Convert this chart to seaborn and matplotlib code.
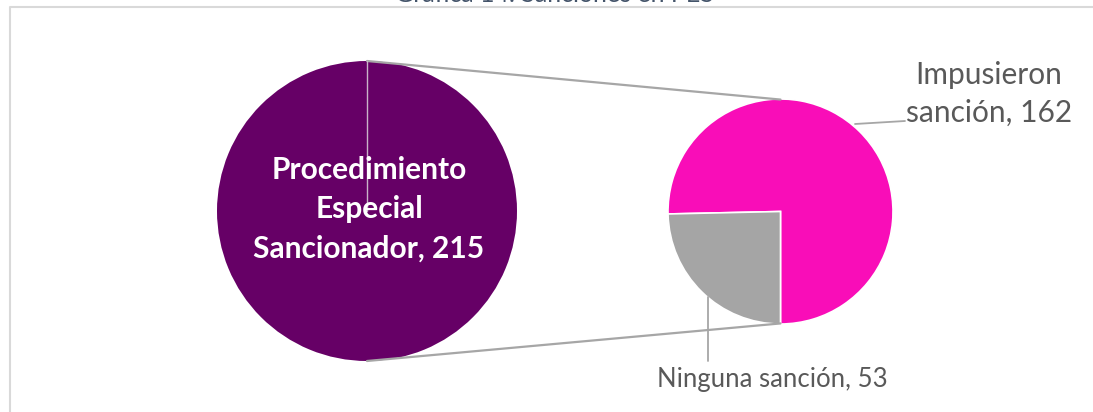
import matplotlib
matplotlib.use("Agg")
import matplotlib.pyplot as plt
import seaborn as sns

# ---- data ----
main_label = ["Procedimiento\nEspecial\nSancionador"]
main_values = [215]
sub_labels = ["Impusieron\nsanción", "Ninguna sanción"]
sub_values = [162, 53]
title = "Gráfica 14. Sanciones en PES"

sns.set_theme(style="white")
plt.rcParams["font.family"] = ["Lato", "DejaVu Sans"]

W, H = 1093, 412
fig = plt.figure(figsize=(W / 100, H / 100), dpi=100)
ax = fig.add_axes([0, 0, 1, 1])

PURPLE = "#660066"
PINK = "#F90DB8"
GRAY = "#A5A5A5"
LINE = "#A6A6A6"
TXT = "#595959"

# geometry (pixel coords, y up)
cx1, cy1, r1 = 367, H - 211, 150
cx2, cy2, r2 = 780.5, H - 211.5, 112.5

# primary pie
ax.pie(main_values, center=(cx1, cy1), radius=r1, colors=[PURPLE],
       startangle=90, wedgeprops=dict(linewidth=0))
ax.plot([cx1, cx1], [cy1, cy1 + r1], color="#C9B3C9", lw=1, zorder=3)
ax.text(cx1 + 2, cy1 + 2, f"{main_label[0]}, {main_values[0]}", color="white",
        fontsize=21.5, fontweight="bold", ha="center", va="center",
        linespacing=1.5, zorder=4)

# secondary pie
wedges, _ = ax.pie(sub_values, center=(cx2, cy2), radius=r2,
                   colors=[PINK, GRAY], startangle=-90, counterclock=True,
                   wedgeprops=dict(edgecolor="white", linewidth=1.2))

# connector lines
ax.plot([cx1, cx2], [cy1 + r1, cy2 + r2 * 0.995], color=LINE, lw=1.6, zorder=1)
ax.plot([cx1, cx2], [cy1 - r1, cy2 - r2 * 0.995], color=LINE, lw=1.6, zorder=1)

# labels with leader lines
ax.plot([855, 905], [H - 124, H - 121], color=LINE, lw=1.3, zorder=1)
ax.text(989, H - 94, f"{sub_labels[0]}, {sub_values[0]}", color=TXT,
        fontsize=21.5, ha="center", va="center", linespacing=1.4)

ax.plot([708, 708], [H - 297, H - 361], color=LINE, lw=1.3, zorder=2)
ax.text(772, H - 380, f"{sub_labels[1]}, {sub_values[1]}", color=TXT,
        fontsize=18.5, ha="center", va="center")

# chart border (partly clipped)
ax.plot([9.5, 9.5, W + 5], [-5, H - 6.5, H - 6.5], color="#D9D9D9", lw=1.5,
        zorder=0, clip_on=False)

# title mostly clipped above the top edge, as in the reference
fig.text(0.507, 1 - 2 / H, title, color="#44546A", fontsize=18,
         ha="center", va="baseline")

ax.set_xlim(0, W)
ax.set_ylim(0, H)
ax.set_aspect("equal")
ax.axis("off")

fig.savefig("out.png", dpi=100, facecolor="white")
